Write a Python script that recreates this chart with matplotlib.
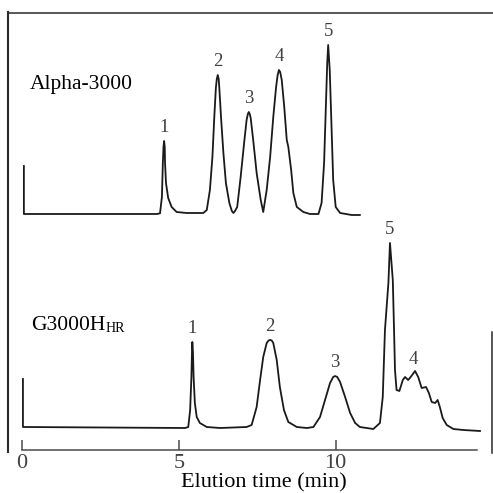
import numpy as np
import matplotlib
matplotlib.use("Agg")
from matplotlib import pyplot as plt
from matplotlib.lines import Line2D

# Alpha-3000 column: elution time (min) and detector response (arb. units)
alpha_time = [0.06, 0.06, 4.30, 4.40, 4.46, 4.49, 4.51, 4.53, 4.55, 4.56, 4.59, 4.66, 4.77, 4.93,
              5.25, 5.78,
              5.89, 5.99, 6.07, 6.13, 6.18, 6.21, 6.24, 6.27, 6.29, 6.35, 6.42, 6.50, 6.61,
              6.69, 6.74, 6.79,
              6.86, 6.97, 7.09, 7.16, 7.20, 7.23, 7.26, 7.29, 7.37, 7.48, 7.61, 7.69,
              7.80, 7.91, 8.01, 8.10, 8.15, 8.19, 8.23, 8.28, 8.36, 8.44, 8.49, 8.58, 8.65,
              8.76, 8.97, 9.18, 9.45,
              9.55, 9.63, 9.68, 9.73, 9.76, 9.81, 9.87, 9.92, 10.00, 10.14, 10.51, 10.77]
alpha_resp = [48, 0, 0, 0.7, 17, 51, 67, 73, 67, 51, 31, 16, 7, 2,
              1, 1,
              4, 24, 57, 97, 126, 135, 139, 135, 126, 94, 61, 31, 11,
              3, 1, 3,
              7, 37, 74, 94, 100, 102, 100, 96, 74, 41, 14, 2,
              24, 57, 97, 127, 139, 144, 142, 134, 107, 74, 67, 44, 21,
              7, 2, 0, 0,
              11, 51, 101, 151, 169, 144, 84, 34, 7, 1, -1, -1]

# G3000HHR column
g3000_time = [0.03, 0.03, 5.20, 5.30, 5.36, 5.40, 5.42, 5.43, 5.45, 5.47, 5.51, 5.57, 5.67, 5.89,
              6.31, 7.16,
              7.32, 7.48, 7.59, 7.69, 7.80, 7.86, 7.91, 7.96, 8.01, 8.12, 8.22, 8.35, 8.49,
              8.76, 9.08,
              9.29, 9.50, 9.66, 9.82, 9.92, 9.98, 10.05, 10.14, 10.30, 10.46, 10.62, 10.77, 11.20,
              11.41, 11.50, 11.57, 11.68, 11.73, 11.82, 11.86, 11.89, 11.94, 12.03, 12.14, 12.21,
              12.31, 12.39, 12.53, 12.63, 12.74, 12.88, 12.97, 13.06, 13.17, 13.25, 13.32, 13.41,
              13.54, 13.75, 14.07, 14.60]
g3000_resp = [49, 1, 0, 1, 18, 51, 78, 86, 76, 51, 25, 11, 5, 1,
              0, 1,
              3, 21, 48, 71, 85, 87.5, 88, 87.5, 85, 68, 41, 18, 6,
              1, 0,
              1, 11, 28, 45, 51, 52, 51, 46, 31, 15, 5, 1, -1,
              5, 31, 98, 145, 185, 148, 98, 58, 38, 37, 48, 51,
              48, 51, 57, 51, 40, 41, 35, 26, 25, 28, 21, 10,
              3, -1, -2, -3]

alpha_peak_times = [4.53, 6.24, 7.23, 8.19, 9.76]
alpha_peak_labels = ['1', '2', '3', '4', '5']
g3000_peak_times = [5.43, 7.91, 9.98, 12.47, 11.73]
g3000_peak_labels = ['1', '2', '3', '4', '5']

x_ticks = [0, 5, 10]

ALPHA_BASE = 214  # vertical offset of the upper trace
W = H = 493

plt.rcParams['font.family'] = ['Liberation Serif', 'DejaVu Serif']

fig = plt.figure(figsize=(W / 100, H / 100), dpi=100)
ax = fig.add_axes([0, 0, 1, 1])
ax.set_xlim(-22 / 31.37, (W - 22) / 31.37)
ax.set_ylim(-65, 428)

line_kw = dict(color='#1a1a1a', lw=1.3, solid_joinstyle='round')
ax.plot(alpha_time, np.array(alpha_resp) + ALPHA_BASE, **line_kw)
ax.plot(g3000_time, g3000_resp, **line_kw)

lab_kw = dict(textcoords='offset points', ha='center', va='center',
              fontsize=13.5, color='#404040')
for t, s in zip(alpha_peak_times, alpha_peak_labels):
    h = np.interp(t, alpha_time[2:], alpha_resp[2:]) + ALPHA_BASE
    ax.annotate(s, (t, h), xytext=(0, 10), **lab_kw)
for t, s in zip(g3000_peak_times, g3000_peak_labels):
    h = np.interp(t, g3000_time[2:], g3000_resp[2:])
    ax.annotate(s, (t, h), xytext=(0, 10), **lab_kw)

# time axis
for side in ['left', 'right', 'top']:
    ax.spines[side].set_visible(False)
ax.spines['bottom'].set_position(('data', -22))
ax.spines['bottom'].set_bounds(0, 14.5)
ax.spines['bottom'].set_color('#4a4a4a')
ax.spines['bottom'].set_linewidth(1.1)
ax.set_yticks([])
ax.set_xticks(x_ticks)
ax.tick_params(axis='x', direction='in', length=7, width=1.1, color='#4a4a4a',
               pad=3, labelsize=16, labelcolor='#404040')
ax.set_xlabel('Elution time (min)', fontsize=16, va='baseline')
ax.xaxis.set_label_coords(264 / W, (H - 487) / H)

# column names
fig.text(30 / W, (H - 89) / H, 'Alpha-3000', fontsize=15.5, va='baseline')
t1 = fig.text(31 / W, (H - 330) / H, 'G3000H', fontsize=15.5, va='baseline')
ax.annotate('HR', xy=(1, 0), xycoords=t1, va='bottom', ha='left', fontsize=10)

# outer frame
frame_kw = dict(color='#2a2a2a', transform=fig.transFigure)
fig.add_artist(Line2D([8.3 / W, 8.3 / W], [(H - 12) / H, (H - 452) / H], lw=1.5, **frame_kw))
fig.add_artist(Line2D([8 / W, 1], [(H - 12.5) / H, (H - 12.5) / H], lw=1.1, **frame_kw))
fig.add_artist(Line2D([491.7 / W, 491.7 / W], [(H - 332) / H, (H - 453) / H], lw=1.1, **frame_kw))

fig.savefig('out.png', dpi=100)
